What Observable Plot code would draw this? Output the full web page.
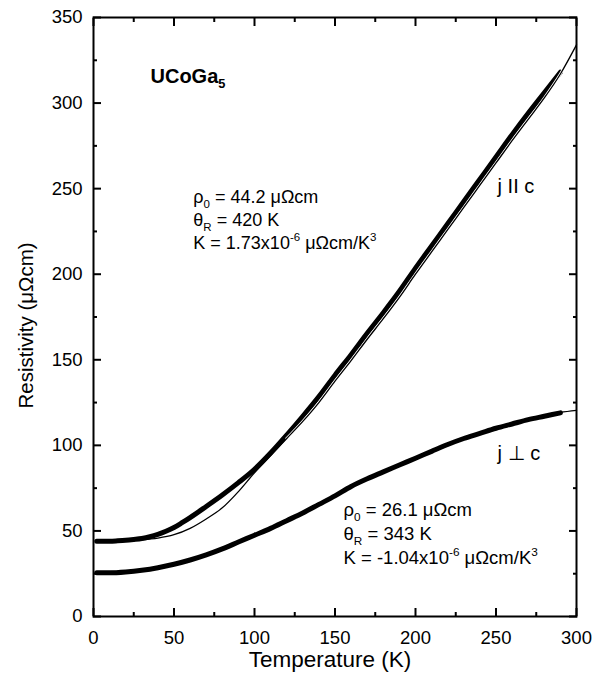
<!DOCTYPE html>
<html>
<head>
<meta charset="utf-8">
<script src="https://cdn.jsdelivr.net/npm/d3@7"></script>
<script src="https://cdn.jsdelivr.net/npm/@observablehq/plot@0.6"></script>
<style>
  html, body { margin: 0; padding: 0; background: #fff; }
  svg { display: block; }
</style>
</head>
<body>
<div id="chart"></div>
<script>
// ---- data ----
// j || c : measured (thick)
const T_par = [2,5,10,15,20,25,30,35,40,45,50,55,60,70,80,90,100,110,120,130,140,150,160,170,180,190,200,210,220,230,240,250,260,270,280,290];
const R_par = [44,44,44,44.2,44.5,45,45.6,46.6,48,49.8,52,54.8,57.8,64.3,71,78.2,86,95.5,106,117,128.5,141,153,165.5,177.5,190,203.5,216.5,229.5,242.5,255.5,268.5,281.5,294,306,318];
// j || c : fit (thin)
const T_par_fit = [2,10,20,30,40,50,60,70,80,90,100,110,120,130,140,150,160,170,180,190,200,210,220,230,240,250,260,270,280,290,300];
const R_par_fit = [44,44,44.3,44.8,45.8,47.8,51.5,57,63.5,73,84,94,104,114,125,137.5,149.5,162,174,186.5,200,213,226,239,252,265,278,290.5,303,317,334];
// j ⊥ c : measured (thick)
const T_perp = [2,5,10,20,30,40,50,60,70,80,90,100,110,120,130,140,150,160,170,180,190,200,210,220,230,240,250,260,270,280,290];
const R_perp = [25.5,25.5,25.5,26,27,28.5,30.5,33,36,39.5,43.5,47.5,51.5,56,60.5,65.5,70.5,76,80.5,84.5,88.5,92.5,96.5,100.5,104,107,110,112.5,115,117,119];
// j ⊥ c : fit (thin)
const T_perp_fit = [2,10,20,30,40,50,60,70,80,90,100,110,120,130,140,150,160,170,180,190,200,210,220,230,240,250,260,270,280,290,300];
const R_perp_fit = [26.1,26.2,26.6,27.5,29,31,33.5,36.5,40,43.5,47.5,51.5,56,60.5,65.5,70.5,75.5,80,84.5,88.5,92.5,96.5,100.5,104,107,110,112.8,115.3,117.6,119.3,120.5];

// ticks
const xMajor = [0,50,100,150,200,250,300];
const xMinor = [25,75,125,175,225,275];
const yMajor = [0,50,100,150,200,250,300,350];
const yMinor = [25,75,125,175,225,275,325];

// annotations (text, anchor point in data units)
const titleLabel = [{T: 35.4, R: 311.5, s: "UCoGa_{5}"}];
const parLabels = [
  {T: 62, R: 241.5, s: "ρ_{0} = 44.2 μΩcm"},
  {T: 62, R: 228, s: "θ_{R} = 420 K"},
  {T: 62, R: 214.5, s: "K = 1.73x10^{-6} μΩcm/K^{3}"}
];
const perpLabels = [
  {T: 155.3, R: 58.5, s: "ρ_{0} = 26.1 μΩcm"},
  {T: 155.3, R: 44.5, s: "θ_{R} = 343 K"},
  {T: 155.3, R: 30.5, s: "K = -1.04x10^{-6} μΩcm/K^{3}"}
];
const curveLabels = [
  {T: 251, R: 247.5, s: "j II c"},
  {T: 251, R: 91.5, s: "j ⊥ c"}
];

const font = "'Liberation Sans', Arial, Helvetica, sans-serif";

const zip = (xs, ys) => xs.map((x, i) => ({T: x, R: ys[i]}));
const parFit = zip(T_par_fit, R_par_fit);

const chart = Plot.plot({
  width: 602,
  height: 682,
  marginLeft: 93,
  marginRight: 26,
  marginTop: 17,
  marginBottom: 66,
  style: {fontFamily: font, background: "#fff", color: "#000"},
  x: {domain: [0, 300]},
  y: {domain: [0, 350]},
  marks: [
    // curves
    Plot.line(zip(T_par, R_par), {x: "T", y: "R", stroke: "#000", strokeWidth: 5, curve: "monotone-x"}),
    Plot.line(zip(T_perp, R_perp), {x: "T", y: "R", stroke: "#000", strokeWidth: 5, curve: "monotone-x"}),
    Plot.line(parFit.filter(d => d.T >= 120), {x: "T", y: "R", stroke: "#fff", strokeWidth: 2.8, curve: "monotone-x"}),
    Plot.line(parFit, {x: "T", y: "R", stroke: "#000", strokeWidth: 1.3, curve: "monotone-x"}),
    Plot.line(zip(T_perp_fit, R_perp_fit), {x: "T", y: "R", stroke: "#000", strokeWidth: 1.3, curve: "monotone-x"}),
    // frame
    Plot.frame({stroke: "#000", strokeWidth: 2}),
    // inward ticks, all four sides
    Plot.axisX(xMajor, {anchor: "bottom", tickSize: -8, strokeWidth: 2, tickFormat: () => "", label: null}),
    Plot.axisX(xMinor, {anchor: "bottom", tickSize: -4, strokeWidth: 2, tickFormat: () => "", label: null}),
    Plot.axisX(xMajor, {anchor: "top", tickSize: -8, strokeWidth: 2, tickFormat: () => "", label: null}),
    Plot.axisX(xMinor, {anchor: "top", tickSize: -4, strokeWidth: 2, tickFormat: () => "", label: null}),
    Plot.axisY(yMajor, {anchor: "left", tickSize: -8, strokeWidth: 2, tickFormat: () => "", label: null}),
    Plot.axisY(yMinor, {anchor: "left", tickSize: -4, strokeWidth: 2, tickFormat: () => "", label: null}),
    Plot.axisY(yMajor, {anchor: "right", tickSize: -8, strokeWidth: 2, tickFormat: () => "", label: null}),
    Plot.axisY(yMinor, {anchor: "right", tickSize: -4, strokeWidth: 2, tickFormat: () => "", label: null}),
    // tick labels
    Plot.axisX(xMajor, {anchor: "bottom", tickSize: 0, tickPadding: 14, fontSize: 18.5, label: null, fill: "#000"}),
    Plot.axisY(yMajor, {anchor: "left", tickSize: 0, tickPadding: 11, fontSize: 18.5, label: null, fill: "#000"}),
    // axis titles
    Plot.text(["Temperature (K)"], {frameAnchor: "bottom", dx: -5, dy: 50, fontSize: 22.5, fill: "#000"}),
    Plot.text(["Resistivity (μΩcm)"], {frameAnchor: "left", textAnchor: "middle", rotate: -90, dx: -67, dy: 8.5, fontSize: 20.5, fill: "#000"}),
    // annotations
    Plot.text(titleLabel, {x: "T", y: "R", text: "s", textAnchor: "start", lineAnchor: "bottom", fontSize: 20, fontWeight: "bold", fill: "#000"}),
    Plot.text(parLabels, {x: "T", y: "R", text: "s", textAnchor: "start", lineAnchor: "bottom", fontSize: 18, fill: "#000"}),
    Plot.text(perpLabels, {x: "T", y: "R", text: "s", textAnchor: "start", lineAnchor: "bottom", fontSize: 18.5, fill: "#000"}),
    Plot.text(curveLabels, {x: "T", y: "R", text: "s", textAnchor: "start", lineAnchor: "bottom", fontSize: 20, fill: "#000"})
  ]
});

// turn _{..} and ^{..} into real subscript / superscript tspans
const NS = "http://www.w3.org/2000/svg";
d3.select(chart).selectAll("text").each(function() {
  const el = this;
  const s = el.textContent;
  if (!/[_^]\{/.test(s)) return;
  let fs = 16;
  let p = el;
  while (p && p !== chart) {
    const a = p.getAttribute && p.getAttribute("font-size");
    if (a) { fs = parseFloat(a); break; }
    p = p.parentNode;
  }
  const parts = s.split(/([_^]\{[^}]*\})/);
  el.textContent = "";
  for (const part of parts) {
    if (!part) continue;
    const ts = document.createElementNS(NS, "tspan");
    if ((part[0] === "_" || part[0] === "^") && part[1] === "{") {
      ts.textContent = part.slice(2, -1);
      ts.setAttribute("font-size", (fs * 0.64).toFixed(1));
      ts.setAttribute("baseline-shift", part[0] === "_" ? (-fs * 0.27).toFixed(1) : (fs * 0.42).toFixed(1));
    } else {
      ts.textContent = part;
    }
    el.appendChild(ts);
  }
});

document.getElementById("chart").appendChild(chart);
</script>
</body>
</html>
